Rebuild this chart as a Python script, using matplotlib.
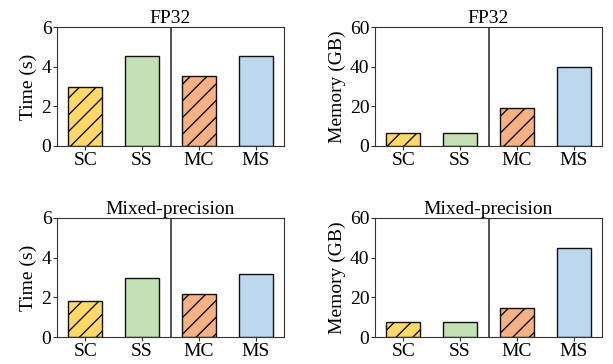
import matplotlib
matplotlib.use('Agg')
import matplotlib.pyplot as plt

plt.rcParams['font.family'] = ['Liberation Serif', 'DejaVu Serif']
plt.rcParams['font.size'] = 14
plt.rcParams['hatch.linewidth'] = 1.0

labels = ['SC', 'SS', 'MC', 'MS']
colors = ['#FFD966', '#C5E0B4', '#F4B183', '#BDD7EE']
hatches = ['//', '', '//', '']

time_fp32 = [3.0, 4.55, 3.55, 4.55]
mem_fp32 = [6.7, 6.7, 19.0, 40.0]
time_mixed = [1.82, 2.95, 2.17, 3.18]
mem_mixed = [7.8, 7.8, 14.6, 45.0]

panels = [
    (time_fp32, 'FP32', 'Time (s)', 6, [0, 2, 4, 6]),
    (mem_fp32, 'FP32', 'Memory (GB)', 60, [0, 20, 40, 60]),
    (time_mixed, 'Mixed-precision', 'Time (s)', 6, [0, 2, 4, 6]),
    (mem_mixed, 'Mixed-precision', 'Memory (GB)', 60, [0, 20, 40, 60]),
]

fig = plt.figure(figsize=(6.13, 3.64), dpi=100)
boxes = [
    [57 / 613, 1 - 146 / 364, 227 / 613, 119 / 364],
    [375 / 613, 1 - 146 / 364, 227 / 613, 119 / 364],
    [57 / 613, 1 - 337 / 364, 227 / 613, 119 / 364],
    [375 / 613, 1 - 337 / 364, 227 / 613, 119 / 364],
]

for box, (vals, title, ylabel, ymax, yticks) in zip(boxes, panels):
    ax = fig.add_axes(box)
    x = range(len(labels))
    bars = ax.bar(x, vals, width=0.6, color=colors, edgecolor='#111111', linewidth=1.0)
    for b, h in zip(bars, hatches):
        b.set_hatch(h)
    ax.axvline(1.5, color='#333333', linewidth=1.2)
    ax.set_xlim(-0.5, 3.5)
    ax.set_ylim(0, ymax)
    ax.set_yticks(yticks)
    ax.set_xticks(list(x))
    ax.set_xticklabels(labels)
    ax.set_ylabel(ylabel, labelpad=3)
    ax.set_title(title, fontsize=14, pad=3)
    for s in ax.spines.values():
        s.set_color('#333333')
    ax.tick_params(length=3, color='#333333', pad=1)

fig.savefig('out.png', dpi=100)
